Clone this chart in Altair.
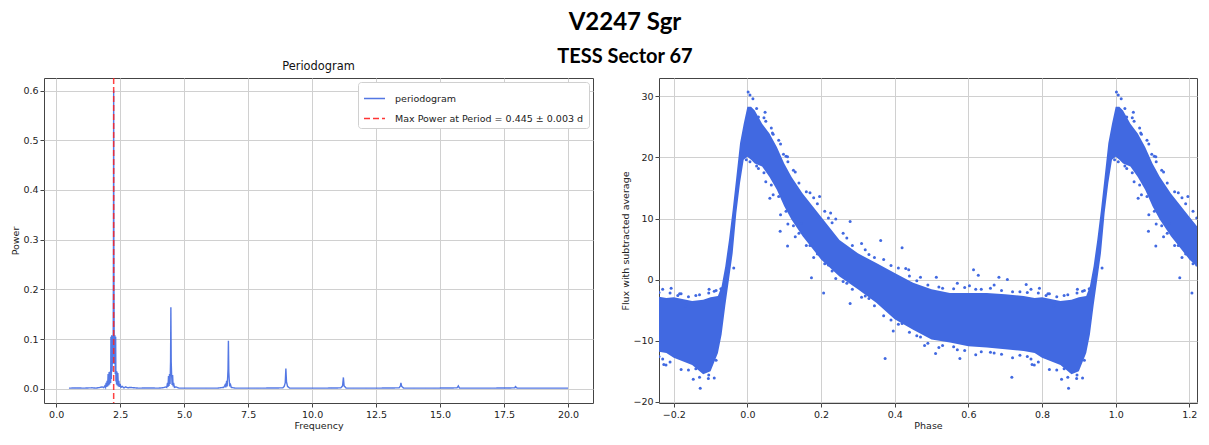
import altair as alt
import pandas as pd

# ---------------- Periodogram ----------------
freq = [0.50, 0.80, 1.10, 1.40, 1.55, 1.70, 1.80, 1.86, 1.90, 1.93, 1.95, 1.97, 1.99, 2.01,
        2.03, 2.05, 2.07, 2.09, 2.11, 2.13, 2.14, 2.155, 2.17, 2.185, 2.20, 2.215, 2.23, 2.24,
        2.247, 2.254, 2.265, 2.28, 2.295, 2.31, 2.325, 2.335, 2.345, 2.36, 2.375, 2.39, 2.41,
        2.43, 2.45, 2.47, 2.50, 2.53, 2.58, 2.65, 2.72, 2.80, 2.88, 3.20, 3.60, 4.00, 4.20,
        4.28, 4.32, 4.35, 4.37, 4.39, 4.41, 4.43, 4.45, 4.47, 4.482, 4.495, 4.51, 4.53, 4.55,
        4.57, 4.59, 4.62, 4.68, 4.80, 5.50, 6.30, 6.55, 6.60, 6.63, 6.66, 6.68, 6.70, 6.715,
        6.73, 6.745, 6.76, 6.78, 6.80, 6.84, 7.00, 8.00, 8.85, 8.91, 8.95, 8.975, 9.00, 9.04,
        9.12, 10.5, 11.12, 11.19, 11.222, 11.25, 11.33, 12.5, 13.40, 13.45, 13.47, 13.50,
        13.58, 14.8, 15.66, 15.715, 15.76, 17.0, 17.92, 17.945, 18.01, 19.0, 20.0]
power = [0.0015, 0.0018, 0.0015, 0.0022, 0.0015, 0.0028, 0.0040, 0.0025, 0.0060, 0.0030,
         0.0120, 0.0040, 0.0160, 0.0050, 0.0300, 0.0070, 0.0340, 0.0090, 0.0350, 0.0120,
         0.1050, 0.0200, 0.1080, 0.0350, 0.1070, 0.0500, 0.1080, 0.3000, 0.6000, 0.3000,
         0.1070, 0.0500, 0.1080, 0.0300, 0.1050, 0.0150, 0.0360, 0.0090, 0.0350, 0.0070,
         0.0320, 0.0050, 0.0160, 0.0040, 0.0100, 0.0030, 0.0050, 0.0020, 0.0040, 0.0020,
         0.0030, 0.0015, 0.0018, 0.0015, 0.0025, 0.0040, 0.0030, 0.0120, 0.0040, 0.0260,
         0.0060, 0.0300, 0.0100, 0.0550, 0.1640, 0.0550, 0.0300, 0.0080, 0.0280, 0.0050,
         0.0120, 0.0030, 0.0040, 0.0015, 0.0015, 0.0015, 0.0030, 0.0080, 0.0030, 0.0160,
         0.0050, 0.0230, 0.0400, 0.0970, 0.0350, 0.0200, 0.0050, 0.0110, 0.0030, 0.0015,
         0.0015, 0.0020, 0.0050, 0.0120, 0.0410, 0.0140, 0.0050, 0.0015, 0.0015, 0.0020,
         0.0060, 0.0230, 0.0060, 0.0015, 0.0015, 0.0020, 0.0060, 0.0120, 0.0050, 0.0015,
         0.0015, 0.0020, 0.0060, 0.0015, 0.0015, 0.0020, 0.0045, 0.0015, 0.0015, 0.0015]

series_names = ["periodogram", "Max Power at Period = 0.445 \u00b1 0.003 d"]
best_freq = [2.247]

freq_ticks = [0.0, 2.5, 5.0, 7.5, 10.0, 12.5, 15.0, 17.5, 20.0]
power_ticks = [0.0, 0.1, 0.2, 0.3, 0.4, 0.5, 0.6]

# ---------------- Phase-folded light curve ----------------
# dense band of the scatter over one cycle (phase 0..1)
env_phase = [0.00, 0.01, 0.02, 0.04, 0.06, 0.08, 0.10, 0.12, 0.15, 0.20, 0.25, 0.30, 0.35,
             0.40, 0.45, 0.50, 0.55, 0.60, 0.65, 0.70, 0.75, 0.78, 0.80, 0.85, 0.88, 0.90,
             0.92, 0.93, 0.94, 0.95, 0.96, 0.97, 0.98, 0.99]
env_low = [20.1, 19.6, 19.0, 18.5, 16.8, 14.7, 12.0, 9.8, 7.1, 3.3, 0.5, -1.6, -3.8,
           -6.5, -8.2, -9.8, -10.3, -10.9, -11.1, -11.4, -11.7, -12.0, -12.8, -14.0, -15.5, -15.0,
           -12.0, -9.0, -4.3, 0.0, 4.3, 10.9, 15.8, 19.6]
env_high = [28.3, 28.3, 27.7, 25.5, 23.9, 21.7, 19.0, 16.8, 14.1, 10.3, 6.5, 4.3, 2.7,
            1.1, -0.5, -1.6, -2.2, -2.2, -2.2, -2.4, -2.7, -3.0, -2.9, -3.5, -3.3, -2.9,
            -2.7, -1.1, 2.2, 6.5, 11.4, 16.8, 22.3, 25.5]

# individual points: outliers and the fuzzy edges of the band
pt_phase = [0.002, 0.007, 0.015, 0.997, 0.007, 0.048, 0.068, 0.098, 0.109, 0.061, 0.089,
            0.109, 0.146, 0.196, 0.174, 0.207, 0.226, 0.279, 0.279, 0.362, 0.420, 0.374,
            0.396, 0.438, 0.481, 0.513, 0.511, 0.577, 0.614, 0.627, 0.603, 0.683, 0.706,
            0.718, 0.757, 0.773, 0.811, 0.832, 0.853, 0.872, 0.896, 0.894, 0.793, 0.816,
            0.779, 0.928, 0.963,
            0.03, 0.05, 0.07, 0.09, 0.11, 0.13, 0.16, 0.18, 0.22, 0.24, 0.27, 0.31, 0.33,
            0.37, 0.43, 0.47, 0.52, 0.57, 0.62, 0.67, 0.72, 0.77, 0.82, 0.86, 0.91,
            0.03, 0.05, 0.07, 0.09, 0.11, 0.13, 0.16, 0.18, 0.22, 0.24, 0.27, 0.31, 0.33,
            0.37, 0.42, 0.47, 0.52, 0.57, 0.62, 0.67, 0.72, 0.77, 0.82, 0.86, 0.91,
            0.025, 0.045, 0.065, 0.085, 0.105, 0.125, 0.14, 0.17, 0.19, 0.21, 0.23, 0.26,
            0.285, 0.32, 0.345, 0.39, 0.41, 0.44, 0.46, 0.49, 0.53, 0.56, 0.59, 0.635,
            0.66, 0.69, 0.74, 0.76, 0.79, 0.84, 0.87, 0.895, 0.915,
            0.025, 0.045, 0.065, 0.085, 0.105, 0.125, 0.14, 0.17, 0.19, 0.21, 0.23, 0.26,
            0.285, 0.32, 0.345, 0.39, 0.41, 0.44, 0.46, 0.49, 0.53, 0.56, 0.59, 0.635,
            0.66, 0.69, 0.74, 0.76, 0.79, 0.84, 0.87, 0.895, 0.915]
pt_flux = [30.7, 30.2, 29.6, 19.6, 19.3, 27.4, 24.0, 20.5, 20.1, 13.3, 7.9,
           5.5, 9.2, 13.6, 0.3, -2.2, 10.9, 9.5, -3.9, 6.4, 5.2, -12.9,
           -8.4, 1.6, -10.8, 0.4, -12.1, -12.9, 1.6, 0.7, -1.0, 0.4, 0.0,
           -16.0, -0.8, -13.9, -2.6, -4.3, -16.3, -17.8, -1.6, -16.2, -1.4, -2.3,
           -14.0, -1.5, 1.9,
           26.6, 25.9, 23.8, 22.2, 19.3, 17.6, 14.4, 13.4, 10.1, 9.9, 6.8, 5.9, 4.1,
           3.3, 1.8, 0.4, -1.2, -0.6, -1.6, -0.9, -2.0, -1.6, -2.3, -2.6, -1.9,
           18.2, 16.0, 13.9, 10.6, 9.1, 7.0, 5.6, 3.6, 2.4, 0.2, -0.6, -2.9, -3.1,
           -5.9, -7.2, -9.4, -11.1, -11.5, -12.3, -12.0, -12.8, -13.0, -14.7, -14.6, -16.1,
           28.0, 26.5, 24.8, 22.8, 20.2, 17.9, 15.8, 14.2, 12.4, 11.2, 9.3, 7.6,
           5.6, 4.9, 3.6, 2.3, 1.9, 0.6, -0.2, -0.9, -1.4, -1.5, -1.3, -1.6,
           -1.4, -1.8, -2.0, -2.1, -2.2, -2.8, -2.5, -2.2, -1.8,
           18.6, 17.5, 15.5, 13.6, 11.2, 8.8, 7.6, 5.6, 4.2, 2.6, 1.4, -0.3,
           -1.6, -2.7, -4.3, -6.6, -7.3, -8.6, -9.2, -10.4, -10.8, -11.0, -11.6, -11.8,
           -11.9, -12.2, -12.4, -12.6, -13.5, -14.8, -16.0, -15.6, -13.2]

phase_ticks = [-0.2, 0.0, 0.2, 0.4, 0.6, 0.8, 1.0, 1.2]
flux_ticks = [-20, -10, 0, 10, 20, 30]

BLUE = "#4169e1"
FONT = "DejaVu Sans"


def fold(df):
    """Repeat the cycle as the original plot does (phase-1 and phase+1 copies)."""
    left = df[df["phase"] >= 0.75].assign(phase=lambda d: d["phase"] - 1)
    right = df[df["phase"] <= 0.25].assign(phase=lambda d: d["phase"] + 1)
    return pd.concat([left, df, right]).sort_values("phase").reset_index(drop=True)


pg_df = pd.DataFrame({"freq": freq, "power": power, "series": series_names[0]})
best_df = pd.DataFrame({"freq": best_freq, "series": series_names[1]})
env_df = fold(pd.DataFrame({"phase": env_phase, "low": env_low, "high": env_high}))
pts_df = fold(pd.DataFrame({"phase": pt_phase, "flux": pt_flux}))

legend = alt.Legend(
    orient="top-right", offset=4, fillColor="white", strokeColor="#d0d0d0",
    cornerRadius=3, padding=5, symbolType="stroke", symbolSize=441,
    symbolStrokeWidth=1.5, labelFont=FONT, labelFontSize=9.5, labelColor="#222",
    labelOffset=9, rowPadding=4, labelLimit=400,
)
color = alt.Color("series:N", title=None, legend=legend,
                  scale=alt.Scale(domain=series_names, range=[BLUE, "#ff2020"]))
dash = alt.StrokeDash("series:N", title=None, legend=legend,
                      scale=alt.Scale(domain=series_names, range=[[1, 0], [6, 3]]))

x_freq = alt.X("freq:Q", scale=alt.Scale(domain=[-0.475, 20.975], nice=False, zero=False),
               axis=alt.Axis(title="Frequency", values=freq_ticks, format=".1f"))

line = alt.Chart(pg_df).mark_line(strokeWidth=1.4, opacity=0.9, clip=True).encode(
    x=x_freq,
    y=alt.Y("power:Q", scale=alt.Scale(domain=[-0.0284, 0.6252], nice=False, zero=False),
            axis=alt.Axis(title="Power", values=power_ticks, format=".1f")),
    color=color, strokeDash=dash,
)
rule = alt.Chart(best_df).mark_rule(strokeWidth=1.5, opacity=0.85).encode(
    x=x_freq, color=color, strokeDash=dash,
)
left = alt.layer(line, rule).properties(
    width=549, height=325,
    title=alt.TitleParams("Periodogram", font=FONT, fontSize=11.4, fontWeight="normal",
                          color="#111", offset=5),
)

x_phase = alt.X("phase:Q", scale=alt.Scale(domain=[-0.24, 1.2208], nice=False, zero=False),
                axis=alt.Axis(title="Phase", values=phase_ticks, format=".1f"))
y_flux = alt.Scale(domain=[-20.2, 33.0], nice=False, zero=False)

band = alt.Chart(env_df).mark_area(color=BLUE, clip=True).encode(
    x=x_phase,
    y=alt.Y("low:Q", scale=y_flux,
            axis=alt.Axis(title="Flux with subtracted average", values=flux_ticks, format="d")),
    y2="high:Q",
)
pts = alt.Chart(pts_df).mark_circle(size=9, color=BLUE, opacity=1, clip=True).encode(
    x=x_phase, y=alt.Y("flux:Q", scale=y_flux),
)
right = alt.layer(band, pts).properties(width=538, height=325)

chart = alt.hconcat(left, right, spacing=26).resolve_scale(
    color="independent", strokeDash="independent"
).resolve_legend(
    color="independent", strokeDash="independent"
).properties(
    padding={"left": 2, "top": 3, "right": 0, "bottom": 0},
    title=alt.TitleParams(
        "V2247 Sgr", subtitle="TESS Sector 67", anchor="middle",
        font="Lato", fontSize=24, fontWeight="bold", color="#000",
        subtitleFont="Lato", subtitleFontSize=20, subtitleFontWeight="bold",
        subtitleColor="#000", subtitlePadding=12, offset=-7, dx=21,
    ),
).configure_axis(
    labelFont=FONT, labelFontSize=9.5, labelColor="#222", titleFont=FONT,
    titleFontSize=9.5, titleFontWeight="normal", titleColor="#222",
    gridColor="#d0d0d0", gridWidth=1, domain=False, tickColor="#444", tickSize=4,
    labelPadding=2, titlePadding=2, labelFlush=False,
).configure_view(stroke="#444", strokeWidth=1)

chart.save("out.html", embed_options={"renderer": "svg", "actions": False})
